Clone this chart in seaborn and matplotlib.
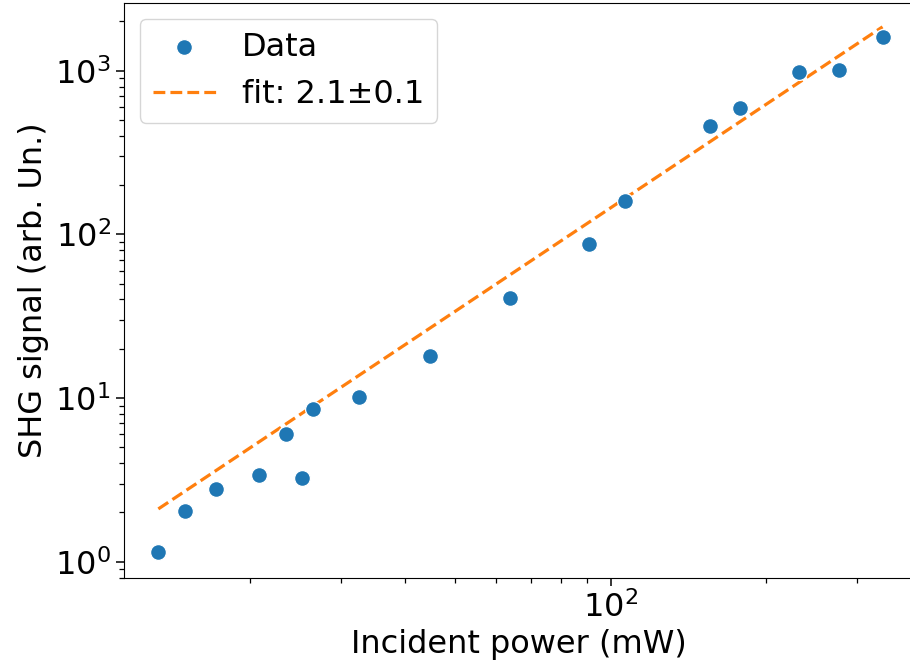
import numpy as np
import pandas as pd
import seaborn as sns
import matplotlib
matplotlib.use("Agg")
import matplotlib.pyplot as plt

# incident power (mW) and SHG signal (arb. units)
power = [13.3, 15.0, 17.2, 20.8, 23.5, 25.2, 26.5, 32.6, 44.6, 63.7,
         90.6, 106.5, 155.6, 178, 232, 277, 336]
signal = [1.15, 2.04, 2.78, 3.39, 6.03, 3.25, 8.57, 10.1, 18.1, 40.8,
          87.3, 160, 458, 590, 980, 1006, 1603]

# power-law fit y = amp * x**slope
fit_slope = 2.1
fit_amp = 0.00917

df = pd.DataFrame({"power": power, "signal": signal})
df["fit"] = fit_amp * df["power"] ** fit_slope

fig, ax = plt.subplots(figsize=(9.1, 6.69), dpi=100)

sns.scatterplot(data=df, x="power", y="signal", ax=ax, color="C0", s=130,
                label="Data", zorder=3)
sns.lineplot(data=df, x="power", y="fit", ax=ax, color="C1", linestyle="--",
             linewidth=2.3, label="fit: 2.1\u00b10.1")

ax.set_xscale("log")
ax.set_yscale("log")
ax.set_xlim(11.4, 386)
ax.set_ylim(0.795, 2590)

ax.set_xlabel("Incident power (mW)", fontsize=23)
ax.set_ylabel("SHG signal (arb. Un.)", fontsize=23)
ax.tick_params(axis="both", which="major", labelsize=23, length=6, width=1.1)
ax.tick_params(axis="both", which="minor", length=3.5, width=0.9)

ax.legend(loc="upper left", fontsize=23, handlelength=2.0)

plt.subplots_adjust(left=0.136, right=1.004, top=0.9955, bottom=0.136)
plt.savefig("out.png", dpi=100)
